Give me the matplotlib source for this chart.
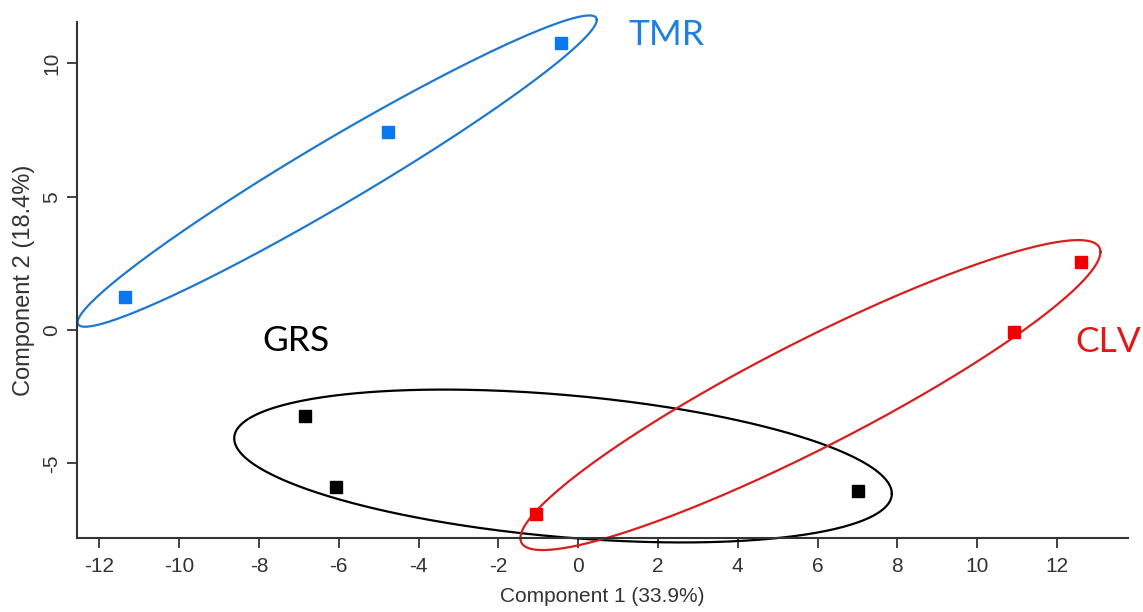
import numpy as np
import matplotlib
matplotlib.use("Agg")
import matplotlib.pyplot as plt

plt.rcParams["axes.unicode_minus"] = False

# PCA scores per group (Component 1, Component 2)
groups = ["TMR", "GRS", "CLV"]
tmr_pc1 = [-11.35, -4.76, -0.43]
tmr_pc2 = [1.24, 7.42, 10.76]
grs_pc1 = [-6.84, -6.07, 7.02]
grs_pc2 = [-3.22, -5.89, -6.04]
clv_pc1 = [-1.05, 10.93, 12.60]
clv_pc2 = [-6.90, -0.07, 2.55]

# group ellipses: centre and shape matrix (var1, var2, cov12) in score units
ell_center = {"TMR": (-6.04, 5.96), "GRS": (-0.38, -5.10), "CLV": (5.82, -2.44)}
ell_shape = {"TMR": (42.33, 34.07, 36.88),
             "GRS": (67.91, 8.215, -8.54),
             "CLV": (52.83, 33.78, 39.00)}

x_ticks = [-12, -10, -8, -6, -4, -2, 0, 2, 4, 6, 8, 10, 12]
y_ticks = [-5, 0, 5, 10]

marker_colors = {"TMR": "#0a78f0", "GRS": "#000000", "CLV": "#f00000"}
line_colors = {"TMR": "#1f78d0", "GRS": "#000000", "CLV": "#d81e1e"}
label_colors = {"TMR": "#1f80e0", "GRS": "#000000", "CLV": "#e01818"}
label_pos = {"TMR": (1.25, 10.69), "GRS": (-7.92, -0.80), "CLV": (12.45, -0.82)}

scores = {"TMR": (tmr_pc1, tmr_pc2), "GRS": (grs_pc1, grs_pc2), "CLV": (clv_pc1, clv_pc2)}

fig = plt.figure(figsize=(11.43, 6.12), dpi=100)
ax = fig.add_axes([0.0674, 0.1209, 0.9195, 0.8431])
ax.set_xlim(-12.56, 13.78)
ax.set_ylim(-7.8, 11.55)

t = np.linspace(0, 2 * np.pi, 400)
for g in groups:
    cx, cy = ell_center[g]
    v1, v2, c12 = ell_shape[g]
    L = np.linalg.cholesky(np.array([[v1, c12], [c12, v2]]))
    pts = L @ np.vstack([np.cos(t), np.sin(t)])
    ax.plot(cx + pts[0], cy + pts[1], color=line_colors[g], lw=1.6,
            clip_on=False, zorder=2)

for g in groups:
    xs, ys = scores[g]
    ax.plot(xs, ys, ls="none", marker="s", ms=8.5, color=marker_colors[g],
            mec=marker_colors[g], zorder=3, clip_on=False)
    lx, ly = label_pos[g]
    ax.text(lx, ly, g, color=label_colors[g], fontsize=25.5, family="Lato",
            ha="left", va="baseline")

for side in ("top", "right"):
    ax.spines[side].set_visible(False)
for side in ("left", "bottom"):
    ax.spines[side].set_color("#333333")
    ax.spines[side].set_linewidth(1.5)

ax.set_xticks(x_ticks)
ax.set_yticks(y_ticks)
ax.set_yticklabels([str(v) for v in y_ticks], rotation=90, va="center")
ax.tick_params(direction="out", length=7.5, width=1.3, color="#333333",
               labelsize=15, labelcolor="#333333", pad=4)
ax.tick_params(axis="x", pad=6)
for lab in ax.get_xticklabels() + ax.get_yticklabels():
    lab.set_family("Liberation Sans")

ax.set_xlabel("Component 1 (33.9%)", fontsize=15, family="Liberation Sans",
              color="#333333", labelpad=8)
ax.set_ylabel("Component 2 (18.4%)", fontsize=17, family="Liberation Sans",
              color="#333333", labelpad=5)

fig.savefig("out.png", dpi=100)
